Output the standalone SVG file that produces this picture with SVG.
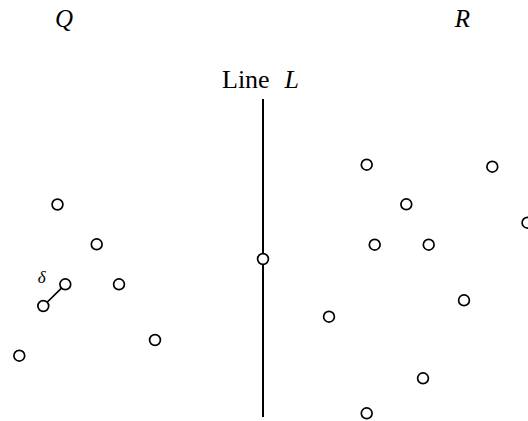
<svg xmlns="http://www.w3.org/2000/svg" width="528" height="421" viewBox="0 0 528 421">
<style>
.pt{fill:#fff;stroke:#000;stroke-width:1.7}
.lbl{font-family:"Liberation Serif","Times New Roman",serif;fill:#000}
.it{font-style:italic}
</style>
<rect width="528" height="421" fill="#fff"/>
<text class="lbl it" x="64" y="27" font-size="25" text-anchor="middle">Q</text>
<text class="lbl it" x="462.5" y="27" font-size="25" text-anchor="middle">R</text>
<text class="lbl" x="222" y="88" font-size="26">Line<tspan class="it" x="284.5">L</tspan></text>
<g id="connectors">
<line x1="263" y1="99" x2="263" y2="417" stroke="#000" stroke-width="2"/>
<line x1="43.3" y1="306" x2="65.3" y2="284.3" stroke="#000" stroke-width="1.7"/>
</g>
<text class="lbl it" x="41.7" y="282.5" font-size="17" text-anchor="middle">δ</text>
<g id="Q-points">
<circle id="q1" class="pt" cx="57.5" cy="204.5" r="5.4"/>
<circle id="q2" class="pt" cx="96.7" cy="244.3" r="5.4"/>
<circle id="q3" class="pt" cx="65.3" cy="284.3" r="5.4"/>
<circle id="q4" class="pt" cx="119" cy="284.3" r="5.4"/>
<circle id="q5" class="pt" cx="43.3" cy="306" r="5.4"/>
<circle id="q6" class="pt" cx="155" cy="340" r="5.4"/>
<circle id="q7" class="pt" cx="19.3" cy="355.7" r="5.4"/>
</g>
<g id="L-point">
<circle id="l1" class="pt" cx="263" cy="259" r="5.4"/>
</g>
<g id="R-points">
<circle id="r1" class="pt" cx="366.7" cy="164.7" r="5.4"/>
<circle id="r2" class="pt" cx="492.3" cy="166.7" r="5.4"/>
<circle id="r3" class="pt" cx="406.3" cy="204.3" r="5.4"/>
<circle id="r4" class="pt" cx="527.5" cy="222.7" r="5.4"/>
<circle id="r5" class="pt" cx="374.7" cy="244.7" r="5.4"/>
<circle id="r6" class="pt" cx="428.7" cy="244.7" r="5.4"/>
<circle id="r7" class="pt" cx="464" cy="300.3" r="5.4"/>
<circle id="r8" class="pt" cx="329" cy="316.7" r="5.4"/>
<circle id="r9" class="pt" cx="423" cy="378.3" r="5.4"/>
<circle id="r10" class="pt" cx="366.7" cy="413.3" r="5.4"/>
</g>
</svg>
